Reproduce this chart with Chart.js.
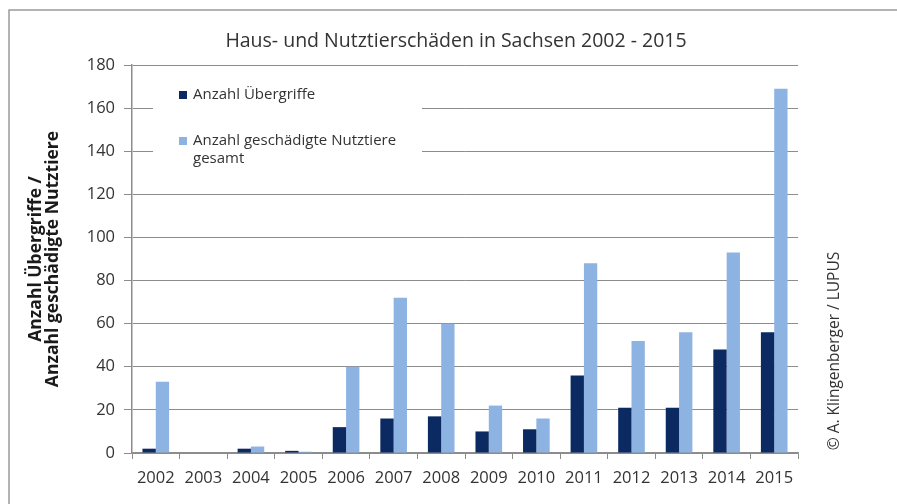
<!DOCTYPE html>
<html lang="de">
<head>
<meta charset="utf-8">
<title>Haus- und Nutztierschäden in Sachsen 2002 - 2015</title>
<script src="https://cdn.jsdelivr.net/npm/chart.js@4.4.1/dist/chart.umd.min.js"></script>
<style>
    html, body { margin: 0; padding: 0; background: #fff; }
    canvas { display: block; }
</style>
</head>
<body>
<canvas id="schadenChart" width="897" height="504"></canvas>
<script>
// Daten
const jahre = ['2002', '2003', '2004', '2005', '2006', '2007', '2008', '2009', '2010', '2011', '2012', '2013', '2014', '2015'];
const uebergriffe = [2, 0, 2, 1, 12, 16, 17, 10, 11, 36, 21, 21, 48, 56];
const nutztiere = [33, 0, 3, 0.6, 40, 72, 60, 22, 16, 88, 52, 56, 93, 169];
const yTicks = [0, 20, 40, 60, 80, 100, 120, 140, 160, 180];

const FONT = '"Open Sans", Lato, sans-serif';
const GRID = '#8c8c8c';
const TEXT = '#333333';

/**
 * Rahmen, Legende im Diagramm und Copyright-Vermerk
 */
const extrasPlugin = {
    id: 'extras',
    beforeDraw(chart) {
        const ctx = chart.ctx;
        ctx.save();
        ctx.fillStyle = '#ffffff';
        ctx.fillRect(0, 0, chart.width, chart.height);
        // grauer Rahmen links und oben
        ctx.strokeStyle = '#9a9a9a';
        ctx.lineWidth = 1.5;
        ctx.beginPath();
        ctx.moveTo(9, chart.height);
        ctx.lineTo(9, 10);
        ctx.lineTo(chart.width, 10);
        ctx.stroke();
        ctx.restore();
    },
    afterDatasetsDraw(chart) {
        const ctx = chart.ctx;
        const area = chart.chartArea;
        const x0 = area.left + 21;
        const y0 = area.top + 7;

        ctx.save();
        // Legende verdeckt die Gitterlinien
        ctx.fillStyle = '#ffffff';
        ctx.fillRect(x0, y0, 269, 112);

        ctx.font = '15px ' + FONT;
        ctx.textBaseline = 'middle';
        ctx.textAlign = 'left';

        const items = [
            { color: chart.data.datasets[0].backgroundColor, lines: ['Anzahl Übergriffe'], y: y0 + 23 },
            { color: chart.data.datasets[1].backgroundColor, lines: ['Anzahl geschädigte Nutztiere', 'gesamt'], y: y0 + 69 }
        ];
        items.forEach(item => {
            ctx.fillStyle = item.color;
            ctx.fillRect(x0 + 26, item.y - 4, 8, 8);
            ctx.fillStyle = TEXT;
            item.lines.forEach((line, i) => {
                ctx.fillText(line, x0 + 40, item.y + i * 18);
            });
        });

        // Copyright rechts, gedreht
        const right = chart.scales.rand;
        ctx.translate(right.left + 37, 351);
        ctx.rotate(-Math.PI / 2);
        ctx.font = '15.5px ' + FONT;
        ctx.textAlign = 'center';
        ctx.fillStyle = TEXT;
        ctx.fillText('© A. Klingenberger / LUPUS', 0, 0);
        ctx.restore();
    }
};

document.addEventListener('DOMContentLoaded', function() {
    const canvas = document.getElementById('schadenChart');

    new Chart(canvas, {
        type: 'bar',
        data: {
            labels: jahre,
            datasets: [{
                label: 'Anzahl Übergriffe',
                data: uebergriffe,
                backgroundColor: '#0c2a62',
                barPercentage: 1.0,
                categoryPercentage: 0.56
            }, {
                label: 'Anzahl geschädigte Nutztiere gesamt',
                data: nutztiere,
                backgroundColor: '#8db3e2',
                barPercentage: 1.0,
                categoryPercentage: 0.56
            }]
        },
        options: {
            responsive: false,
            animation: false,
            layout: {
                padding: { left: 15, right: 0, top: 0, bottom: 0 }
            },
            plugins: {
                legend: { display: false },
                tooltip: { enabled: false },
                title: {
                    display: true,
                    text: 'Haus- und Nutztierschäden in Sachsen 2002 - 2015',
                    color: TEXT,
                    font: { family: FONT, size: 19.5, weight: 'normal' },
                    padding: { top: 30, bottom: 11.6 }
                }
            },
            scales: {
                x: {
                    grid: {
                        offset: true,
                        drawOnChartArea: false,
                        drawTicks: true,
                        tickLength: 6,
                        color: GRID
                    },
                    border: { display: true, color: GRID, width: 1.5 },
                    ticks: {
                        color: TEXT,
                        padding: 9,
                        font: { family: FONT, size: 16.5 }
                    },
                    afterFit: function(scale) {
                        scale.height = 51;
                    }
                },
                y: {
                    min: 0,
                    max: 180,
                    afterBuildTicks: function(scale) {
                        scale.ticks = yTicks.map(v => ({ value: v }));
                    },
                    grid: {
                        color: GRID,
                        lineWidth: 1,
                        drawTicks: true,
                        tickLength: 8
                    },
                    border: { display: true, color: GRID, width: 1.5 },
                    ticks: {
                        color: TEXT,
                        padding: 9,
                        font: { family: FONT, size: 16.5 }
                    },
                    title: {
                        display: true,
                        text: ['Anzahl Übergriffe /', 'Anzahl geschädigte Nutztiere'],
                        color: '#1a1a1a',
                        font: { family: FONT, size: 17.5, weight: 'bold', lineHeight: 1.0 },
                        padding: { top: 12, bottom: 0 }
                    },
                    afterFit: function(scale) {
                        scale.width = 117;
                    }
                },
                // leere Achse rechts: Platz für den Copyright-Vermerk
                rand: {
                    position: 'right',
                    display: true,
                    grid: { display: false },
                    border: { display: false },
                    ticks: { display: false },
                    afterFit: function(scale) {
                        scale.width = 99;
                    }
                }
            }
        },
        plugins: [extrasPlugin]
    });
});
</script>
</body>
</html>
